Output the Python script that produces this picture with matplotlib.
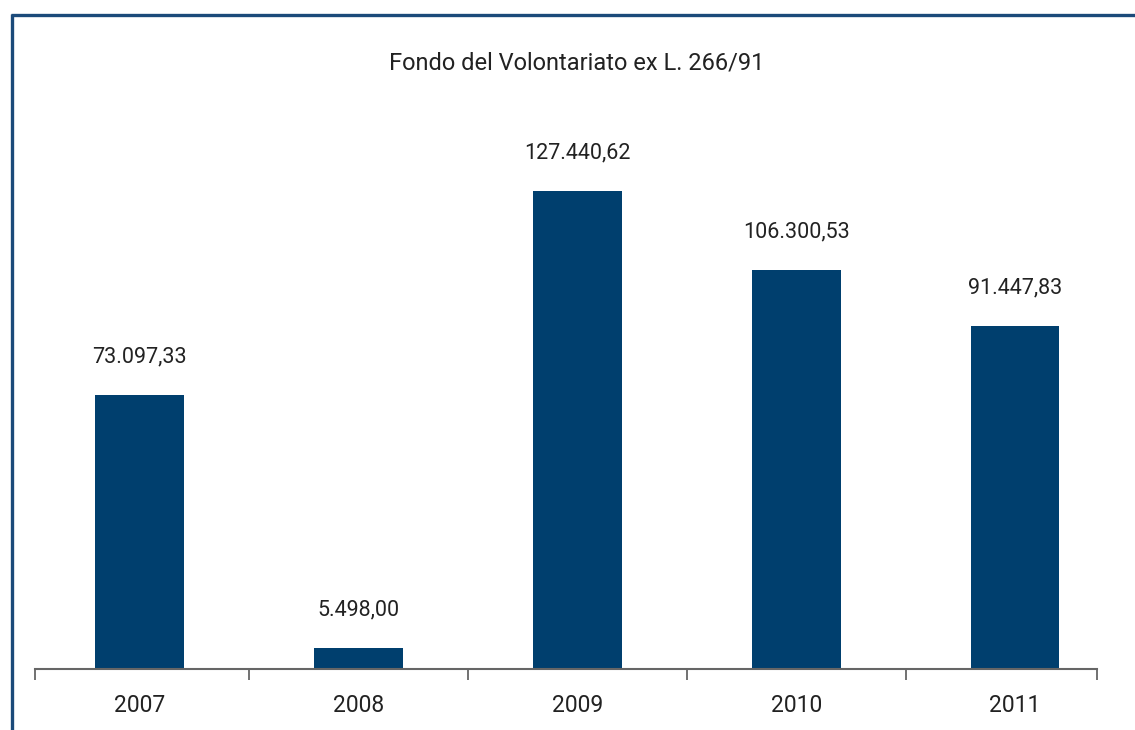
import matplotlib
matplotlib.use("Agg")
import matplotlib.pyplot as plt
from matplotlib.lines import Line2D

years = ["2007", "2008", "2009", "2010", "2011"]
values = [73097.33, 5498.00, 127440.62, 106300.53, 91447.83]
labels = ["73.097,33", "5.498,00", "127.440,62", "106.300,53", "91.447,83"]
title = "Fondo del Volontariato ex L. 266/91"

plt.rcParams['font.family'] = ['Roboto', 'DejaVu Sans']

fig = plt.figure(figsize=(11.35, 7.30), dpi=100)
ax = fig.add_axes([35/1135, 61/730, (1097-35)/1135, (669-100)/730])

x = list(range(len(years)))
bars = ax.bar(x, values, width=0.405, color='#003f6e')

ax.set_xlim(-0.477, 4.374)
ax.set_ylim(0, 151700)

ax.set_xticks(x)
ax.set_xticklabels(years, fontsize=16.5, color='#222222')
ax.tick_params(axis='x', which='major', length=0, pad=18)
ax.set_xticks([-0.477, 0.5, 1.5, 2.5, 3.5, 4.374], minor=True)
ax.tick_params(axis='x', which='minor', length=8, width=1.3, color='#666666', direction='out')
ax.set_yticks([])
for s in ['top', 'right', 'left']:
    ax.spines[s].set_visible(False)
ax.spines['bottom'].set_color('#666666')
ax.spines['bottom'].set_linewidth(1.5)

for xi, v, lab in zip(x, values, labels):
    ax.annotate(lab, (xi, v), xytext=(0, 38), textcoords='offset pixels',
                ha='center', va='center', fontsize=15.5, color='#222222')

fig.text(577/1135, 1 - 63/730, title, ha='center', va='center', fontsize=17, color='#222222')

fig.add_artist(Line2D([11/1135, 1], [1 - 14.5/730, 1 - 14.5/730], transform=fig.transFigure,
                      color='#1b4a7a', linewidth=2.4, solid_capstyle='butt'))
fig.add_artist(Line2D([11.5/1135, 11.5/1135], [0, 1 - 13.5/730], transform=fig.transFigure,
                      color='#1b4a7a', linewidth=2.4, solid_capstyle='butt'))

fig.savefig("out.png", dpi=100)
